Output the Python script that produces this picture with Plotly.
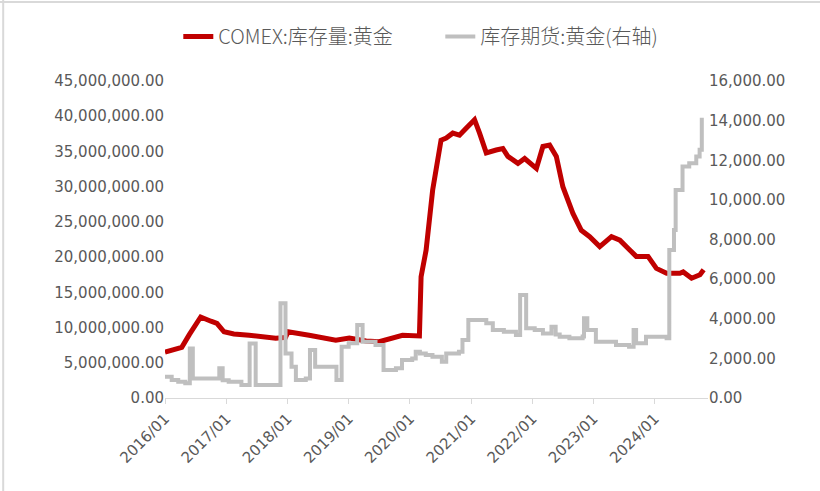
import plotly.graph_objects as go

# ---- data ----
red_dates = ["2016-01-01", "2016-02-15", "2016-04-10", "2016-05-25", "2016-08-01", "2016-10-01",
             "2016-11-06", "2016-12-18", "2017-02-15", "2017-05-17", "2017-10-23", "2017-12-20",
             "2018-01-05", "2018-05-10", "2018-10-16", "2019-01-05", "2019-04-15", "2019-07-02",
             "2019-11-18", "2020-02-27", "2020-03-08", "2020-04-07", "2020-05-16", "2020-07-05",
             "2020-08-05", "2020-09-13", "2020-10-23", "2020-12-02", "2021-01-21", "2021-02-20",
             "2021-04-01", "2021-05-30", "2021-07-09", "2021-08-08", "2021-10-07", "2021-11-16",
             "2022-01-25", "2022-03-05", "2022-04-14", "2022-05-24", "2022-07-02", "2022-08-31",
             "2022-10-20", "2022-12-09", "2023-02-07", "2023-04-18", "2023-06-07", "2023-08-05",
             "2023-09-13", "2023-11-22", "2024-01-11", "2024-03-12", "2024-05-30", "2024-06-19",
             "2024-08-08", "2024-09-27", "2024-10-19"]
red_values = [6.5e6, 6.8e6, 7.2e6, 9.0e6, 11.5e6, 10.9e6,
              10.6e6, 9.4e6, 9.1e6, 8.9e6, 8.5e6, 8.6e6,
              9.4e6, 8.9e6, 8.2e6, 8.5e6, 8.1e6, 8.0e6,
              8.9e6, 8.8e6, 17.2e6, 21.0e6, 29.5e6, 36.6e6,
              36.9e6, 37.6e6, 37.3e6, 38.3e6, 39.5e6, 37.6e6,
              34.8e6, 35.2e6, 35.4e6, 34.3e6, 33.3e6, 34.0e6,
              32.6e6, 35.7e6, 35.9e6, 34.3e6, 30.0e6, 26.2e6,
              23.8e6, 22.9e6, 21.5e6, 22.9e6, 22.4e6, 21.0e6,
              20.1e6, 20.1e6, 18.4e6, 17.7e6, 17.7e6, 17.9e6,
              17.0e6, 17.5e6, 18.2e6]

gray_dates = ["2016-01-01", "2016-02-10", "2016-03-20", "2016-05-01", "2016-05-28", "2016-06-15",
              "2016-11-20", "2016-12-10", "2017-01-15", "2017-04-01", "2017-05-20", "2017-06-25",
              "2017-11-20", "2017-12-20", "2018-01-25", "2018-02-20", "2018-04-20", "2018-05-15",
              "2018-06-15", "2018-10-20", "2018-11-20", "2019-01-01", "2019-02-21", "2019-03-25",
              "2019-06-10", "2019-07-28", "2019-10-10", "2019-11-15", "2020-01-15", "2020-02-05",
              "2020-03-01", "2020-04-05", "2020-05-15", "2020-07-10", "2020-08-05", "2020-10-20",
              "2020-11-10", "2020-12-15", "2021-04-01", "2021-05-10", "2021-07-15", "2021-09-25",
              "2021-10-20", "2021-11-25", "2022-01-15", "2022-03-05", "2022-04-25", "2022-05-20",
              "2022-06-13", "2022-08-10", "2022-10-28", "2022-11-05", "2022-11-25", "2023-01-15",
              "2023-05-15", "2023-08-01", "2023-08-28", "2023-09-12", "2023-11-10", "2024-03-12",
              "2024-03-28", "2024-04-25", "2024-05-05", "2024-06-15", "2024-07-25", "2024-09-05",
              "2024-09-25", "2024-10-08", "2024-10-20"]
gray_values = [1075, 910, 820, 740, 2500, 990,
               1500, 900, 820, 660, 2750, 660,
               4780, 2250, 1580, 910, 990, 2420,
               1580, 910, 2590, 2760, 3680, 2840,
               2675, 1410, 1500, 1920, 2000, 2340,
               2250, 2170, 2085, 1830, 2250, 2340,
               2930, 3940, 3770, 3430, 3350, 3180,
               5200, 3520, 3430, 3260, 3600, 3200,
               3095, 3010, 3100, 4020, 3430, 2840,
               2675, 2590, 3430, 2760, 3095, 3010,
               7470, 8480, 10500, 11680, 11850, 12190,
               12530, 14040, 14040]

year_ticks = ["2016-01-01", "2017-01-01", "2018-01-01", "2019-01-01", "2020-01-01",
              "2021-01-01", "2022-01-01", "2023-01-01", "2024-01-01"]

name_red = "COMEX:库存量:黄金"
name_gray = "库存期货:黄金(右轴)"

# ---- figure ----
tick_font = dict(family="DejaVu Sans", size=15, color="#595959")

fig = go.Figure()
fig.add_trace(go.Scatter(x=red_dates, y=red_values, name=name_red, mode="lines",
                         line=dict(color="#c00000", width=5)))
fig.add_trace(go.Scatter(x=gray_dates, y=gray_values, name=name_gray, mode="lines",
                         line=dict(color="#bfbfbf", width=4, shape="hv"), yaxis="y2"))

fig.update_layout(
    width=820, height=491,
    margin=dict(l=165, r=112, t=81, b=93, autoexpand=False),
    paper_bgcolor="white", plot_bgcolor="white",
    showlegend=True,
    legend=dict(orientation="h", x=0.0245, xanchor="left", y=1.14, yanchor="middle",
                entrywidth=217, entrywidthmode="pixels",
                font=dict(family="Noto Sans CJK SC", size=20, color="#595959", weight=300),
                bgcolor="rgba(0,0,0,0)"),
    xaxis=dict(type="date", range=["2016-01-01", "2024-11-14"], automargin=False,
               tickvals=year_ticks, tickformat="%Y/%m", tickangle=-45,
               tickfont=tick_font, showgrid=False, zeroline=False,
               showline=True, linecolor="#d9d9d9", linewidth=1,
               ticks="outside", ticklen=5, tickcolor="#d9d9d9"),
    yaxis=dict(range=[0, 45e6], dtick=5e6, tickformat=",.2f", tickfont=tick_font,
               automargin=False,
               showgrid=False, zeroline=False, showline=False, ticks=""),
    yaxis2=dict(range=[0, 16000], dtick=2000, tickformat=",.2f", tickfont=tick_font,
                automargin=False,
                overlaying="y", side="right", showgrid=False, zeroline=False,
                showline=False, ticks=""),
    shapes=[
        dict(type="line", xref="paper", yref="paper", x0=-0.298, x1=-0.298, y0=-0.3, y1=1.26,
             line=dict(color="#d9d9d9", width=2)),
        dict(type="line", xref="paper", yref="paper", x0=-0.31, x1=1.21, y0=1.249, y1=1.249,
             line=dict(color="#d9d9d9", width=2)),
    ],
)

fig.write_html("out.html", config={"displayModeBar": False},
               post_script="document.body.style.margin='0px';")
